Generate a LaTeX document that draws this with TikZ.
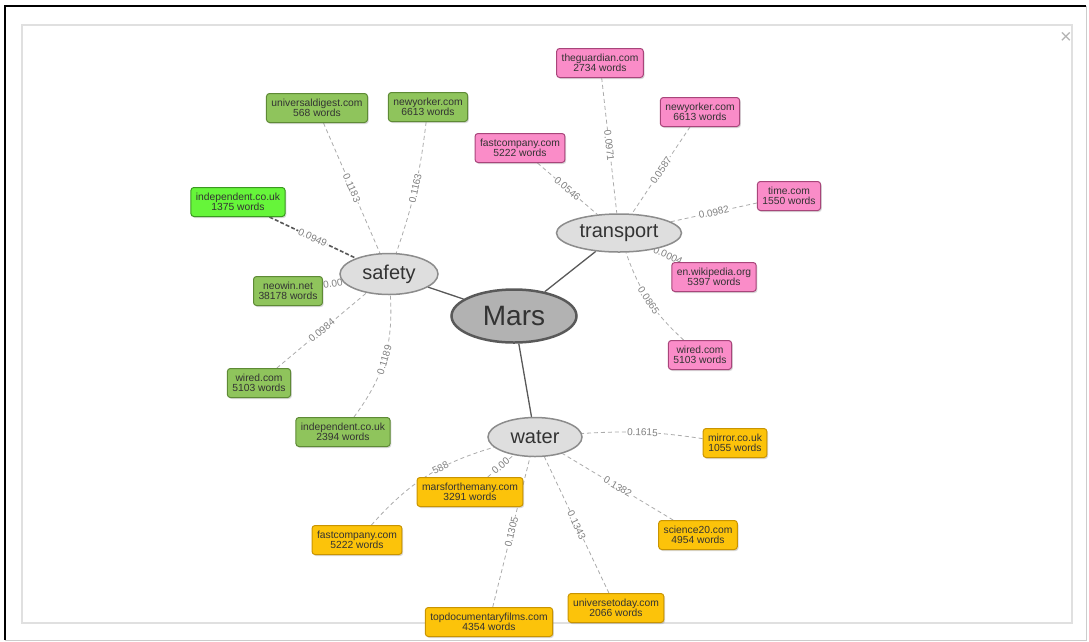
\documentclass[tikz,border=0pt]{standalone}
\usepackage{fontspec}
\setmainfont{Liberation Sans}
\usetikzlibrary{positioning,shapes.geometric,shadows,backgrounds}

\definecolor{siteGreen}{HTML}{8FC45C}
\definecolor{siteGreenDark}{HTML}{5E8A35}
\definecolor{hotGreen}{HTML}{66F53A}
\definecolor{hotGreenDark}{HTML}{3A9A20}
\definecolor{sitePink}{HTML}{FA8CC8}
\definecolor{sitePinkDark}{HTML}{A8457A}
\definecolor{siteYellow}{HTML}{FCC30A}
\definecolor{siteYellowDark}{HTML}{C99400}

\begin{document}
\begin{tikzpicture}[x=1pt, y=-1pt,
  rootNode/.style={ellipse, draw=black!65, fill=black!30, line width=2.5pt,
                   inner sep=0pt, minimum width=125pt, minimum height=53pt,
                   text=black!80, font=\fontsize{28}{28}\selectfont},
  topicNode/.style={ellipse, draw=black!45, fill=black!13, line width=1.5pt,
                    inner sep=0pt, text=black!80,
                    font=\fontsize{20}{20}\selectfont},
  siteBox/.style={draw, rounded corners=3pt, line width=1pt, align=center,
                  inner xsep=5pt, inner ysep=0pt, minimum height=29pt,
                  text=black!80, font=\fontsize{10.3}{10.5}\selectfont,
                  drop shadow={opacity=0.3, shadow xshift=1.2pt,
                               shadow yshift=-1.5pt}},
  greenBox/.style={siteBox, fill=siteGreen, draw=siteGreenDark},
  hotBox/.style={siteBox, fill=hotGreen, draw=hotGreenDark},
  pinkBox/.style={siteBox, fill=sitePink, draw=sitePinkDark},
  yellowBox/.style={siteBox, fill=siteYellow, draw=siteYellowDark},
  topicLink/.style={draw=black!65, line width=1.3pt},
  simLink/.style={draw=black!33, dash pattern=on 4pt off 3pt, line width=0.8pt},
  hotLink/.style={draw=black!65, dash pattern=on 4pt off 2pt, line width=1.6pt},
  simLabel/.style={sloped, fill=white, inner sep=0.6pt, text=black!50,
                   font=\fontsize{10}{10}\selectfont}
]
  \useasboundingbox (0,0) rectangle (1089,641);

  % window frame
  \draw[black!20, line width=1pt] (1086,6) -- (1086,640) -- (5,640);
  \draw[black, line width=1.2pt] (5,640) -- (5,6) -- (1086,6);
  \draw[black!12, line width=1.2pt] (22,25) rectangle (1072,623);
  \node[text=black!30, font=\fontsize{20}{20}\selectfont] (closeMark)
    at (1066,38) {×};

  % topics
  \node[rootNode] (mars) at (514,316) {Mars};
  \node[topicNode, minimum width=98pt, minimum height=41pt] (safety)
    at (389,274) {safety};
  \node[topicNode, minimum width=125pt, minimum height=38pt] (transport)
    at (619,233) {transport};
  \node[topicNode, minimum width=94pt, minimum height=39pt] (water)
    at (535,437) {water};

  \begin{pgfonlayer}{background}
    \foreach \t in {safety, transport, water}
      \draw[topicLink] (mars) -- (\t);
  \end{pgfonlayer}

  % safety sites
  \foreach \id/\x/\y/\site/\words/\score/\bend in {
      g1/317/108/universaldigest.com/568/0.1183/0,
      g2/428/107/newyorker.com/6613/0.1163/6,
      g4/288/291/neowin.net/38178/0.00/0,
      g5/259/383/wired.com/5103/0.0984/0,
      g6/343/432/independent.co.uk/2394/0.1189/-20} {
    \node[greenBox] (\id) at (\x,\y) {\site\\\words{} words};
    \begin{pgfonlayer}{background}
      \draw[simLink] (\id) to[bend left=\bend] node[simLabel] {\score} (safety);
    \end{pgfonlayer}
  }
  \node[hotBox] (g3) at (238,202) {independent.co.uk\\1375 words};
  \begin{pgfonlayer}{background}
    \draw[hotLink] (g3) -- node[simLabel] {0.0949} (safety);
  \end{pgfonlayer}

  % transport sites
  \foreach \id/\x/\y/\site/\words/\score/\bend in {
      p1/600/63/theguardian.com/2734/0.0971/0,
      p2/700/112/newyorker.com/6613/0.0587/0,
      p3/520/148/fastcompany.com/5222/0.0546/0,
      p4/789/196/time.com/1550/0.0982/0,
      p5/714/277/en.wikipedia.org/5397/0.0004/0,
      p6/700/355/wired.com/5103/0.0865/14} {
    \node[pinkBox] (\id) at (\x,\y) {\site\\\words{} words};
    \begin{pgfonlayer}{background}
      \draw[simLink] (\id) to[bend left=\bend] node[simLabel] {\score} (transport);
    \end{pgfonlayer}
  }

  % water sites
  \foreach \id/\x/\y/\site/\words/\score/\bend in {
      y1/735/443/mirror.co.uk/1055/0.1615/-6,
      y2/698/535/science20.com/4954/0.1382/0,
      y3/616/608/universetoday.com/2066/0.1343/0,
      y4/489/622/topdocumentaryfilms.com/4354/0.1305/0,
      y5/470/492/marsforthemany.com/3291/0.00/0} {
    \node[yellowBox] (\id) at (\x,\y) {\site\\\words{} words};
    \begin{pgfonlayer}{background}
      \draw[simLink] (\id) to[bend left=\bend] node[simLabel] {\score} (water);
    \end{pgfonlayer}
  }
  \node[yellowBox] (y6) at (357,540) {fastcompany.com\\5222 words};
  \begin{pgfonlayer}{background}
    \draw[simLink] (y6) to[bend left=16] node[simLabel, pos=0.62] {588} (water);
  \end{pgfonlayer}
\end{tikzpicture}
\end{document}
